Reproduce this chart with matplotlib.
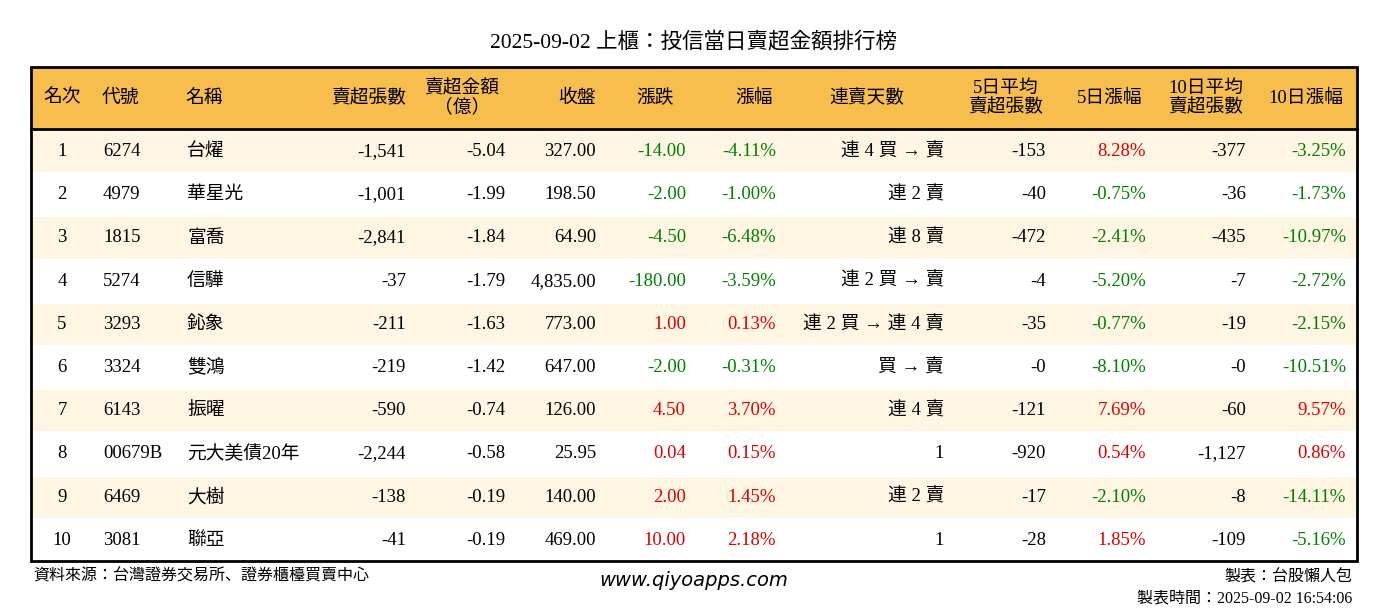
import matplotlib
matplotlib.use("Agg")
import matplotlib.pyplot as plt
from matplotlib.patches import Rectangle
from matplotlib import font_manager

names_avail = {f.name for f in font_manager.fontManager.ttflist}
cjk = [n for n in ["Noto Sans CJK TC", "Noto Sans CJK JP", "Noto Sans CJK SC", "Noto Sans CJK KR",
                   "Noto Serif CJK TC", "Noto Sans TC"] if n in names_avail]
FONT = ["Liberation Serif"] + cjk
plt.rcParams["font.family"] = FONT

title = "2025-09-02 上櫃：投信當日賣超金額排行榜"
headers = ["名次", "代號", "名稱", "賣超張數", "賣超金額\n（億）", "收盤", "漲跌", "漲幅",
           "連賣天數", "5日平均\n賣超張數", "5日漲幅", "10日平均\n賣超張數", "10日漲幅"]
ranks = ["1", "2", "3", "4", "5", "6", "7", "8", "9", "10"]
codes = ["6274", "4979", "1815", "5274", "3293", "3324", "6143", "00679B", "6469", "3081"]
names = ["台燿", "華星光", "富喬", "信驊", "鈊象", "雙鴻", "振曜", "元大美債20年", "大樹", "聯亞"]
net_sell = ["-1,541", "-1,001", "-2,841", "-37", "-211", "-219", "-590", "-2,244", "-138", "-41"]
amount = ["-5.04", "-1.99", "-1.84", "-1.79", "-1.63", "-1.42", "-0.74", "-0.58", "-0.19", "-0.19"]
close = ["327.00", "198.50", "64.90", "4,835.00", "773.00", "647.00", "126.00", "25.95", "140.00", "469.00"]
change = ["-14.00", "-2.00", "-4.50", "-180.00", "1.00", "-2.00", "4.50", "0.04", "2.00", "10.00"]
pct = ["-4.11%", "-1.00%", "-6.48%", "-3.59%", "0.13%", "-0.31%", "3.70%", "0.15%", "1.45%", "2.18%"]
streak = ["連 4 買 → 賣", "連 2 賣", "連 8 賣", "連 2 買 → 賣", "連 2 買 → 連 4 賣", "買 → 賣",
          "連 4 賣", "1", "連 2 賣", "1"]
avg5 = ["-153", "-40", "-472", "-4", "-35", "-0", "-121", "-920", "-17", "-28"]
pct5 = ["8.28%", "-0.75%", "-2.41%", "-5.20%", "-0.77%", "-8.10%", "7.69%", "0.54%", "-2.10%", "1.85%"]
avg10 = ["-377", "-36", "-435", "-7", "-19", "-0", "-60", "-1,127", "-8", "-109"]
pct10 = ["-3.25%", "-1.73%", "-10.97%", "-2.72%", "-2.15%", "-10.51%", "9.57%", "0.86%", "-14.11%", "-5.16%"]

W, H = 1388, 612
fig = plt.figure(figsize=(W / 100, H / 100), dpi=100)
ax = fig.add_axes([0, 0, 1, 1])
ax.set_xlim(0, W)
ax.set_ylim(H, 0)
ax.axis("off")

GREEN, RED = "#008000", "#e00000"
fs = 13.5

def T(x, y, s, **kw):
    kw.setdefault("family", FONT)
    ax.text(x, y, s, **kw)

T(694, 42, title, ha="center", va="center", fontsize=15.5)

x0, x1, ytop, yhead, ybot = 31, 1357, 67, 129, 561
ax.add_patch(Rectangle((x0, ytop), x1 - x0, yhead - ytop, facecolor="#F7BE4D", edgecolor="none"))
rh = (ybot - yhead) / 10
for i in range(10):
    if i % 2 == 0:
        ax.add_patch(Rectangle((x0, yhead + i * rh + 2), x1 - x0, rh - 2, facecolor="#FEF5E3", edgecolor="none"))
ax.plot([x0, x1], [yhead, yhead], color="black", lw=2)
ax.add_patch(Rectangle((x0, ytop), x1 - x0, ybot - ytop, facecolor="none", edgecolor="black", lw=2))

data_pos = [(62, "center"), (103, "left"), (187, "left"), (406, "right"), (505, "right"),
            (596, "right"), (686, "right"), (776, "right"), (944, "right"), (1046, "right"),
            (1146, "right"), (1246, "right"), (1346, "right")]
head_pos = [(62, "center"), (120, "center"), (204, "center"), (406, "right"), (462, "center"),
            (596, "right"), (655, "center"), (754, "center"), (867, "center"), (1006, "center"),
            (1110, "center"), (1206, "center"), (1306, "center")]

for h, (x, ha) in zip(headers, head_pos):
    T(x, (ytop + yhead) / 2, h, ha=ha, va="center", fontsize=fs, linespacing=1.1,
      multialignment="center")

def col(v):
    return GREEN if v.startswith("-") else RED

for i in range(10):
    y = yhead + (i + 0.5) * rh + 1
    vals = [ranks[i], codes[i], names[i], net_sell[i], amount[i], close[i], change[i], pct[i],
            streak[i], avg5[i], pct5[i], avg10[i], pct10[i]]
    for j, (v, (x, ha)) in enumerate(zip(vals, data_pos)):
        c = "black"
        if j in (6, 7, 10, 12):
            c = col(v)
        T(x, y, v, ha=ha, va="center", fontsize=fs, color=c)

T(33, 577, "資料來源：台灣證券交易所、證券櫃檯買賣中心", ha="left", va="center", fontsize=11.5)
T(694, 580, "www.qiyoapps.com", ha="center", va="center", fontsize=14, style="italic",
  family="DejaVu Sans")
T(1352, 577, "製表：台股懶人包", ha="right", va="center", fontsize=11.5)
T(1352, 598, "製表時間：2025-09-02 16:54:06", ha="right", va="center", fontsize=11.5)

fig.savefig("out.png", dpi=100)
